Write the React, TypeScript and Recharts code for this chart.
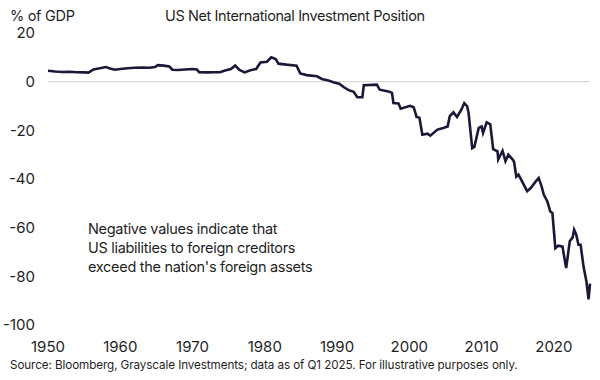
import React from "react";
import { LineChart, Line, XAxis, YAxis, ReferenceLine } from "recharts";

// Net international investment position, % of GDP
const years = [
  1950, 1951, 1952, 1953, 1954, 1955, 1955.6, 1956.3, 1957, 1958, 1958.7, 1959.3,
  1960, 1961, 1962, 1963, 1964, 1964.8, 1965.2, 1966, 1966.8, 1967.2, 1968, 1969,
  1970, 1970.6, 1970.9, 1972, 1973, 1973.8, 1974.5, 1975.3, 1975.9, 1976.5, 1977.2,
  1977.9, 1978.8, 1979.4, 1980.3, 1980.9, 1981.5, 1981.9, 1983, 1984.4, 1984.9,
  1985.8, 1987.2, 1987.9, 1988.8, 1989.6, 1990.3, 1990.9, 1991.6, 1992.3, 1992.8,
  1993.5, 1993.7, 1995.5, 1995.9, 1997.1, 1997.6, 1997.8, 1998.5, 1998.8, 2000.1,
  2000.6, 2001, 2001.4, 2001.8, 2002.5, 2002.9, 2003.9, 2004.7, 2005.3, 2005.6,
  2006.1, 2006.6, 2007.2, 2007.6, 2008, 2008.2, 2008.7, 2009, 2009.6, 2010, 2010.2,
  2010.7, 2011.2, 2011.6, 2012.2, 2012.3, 2012.9, 2013.3, 2013.7, 2014.3, 2014.5,
  2014.8, 2015.1, 2015.6, 2016.3, 2016.8, 2017.5, 2017.9, 2018.3, 2018.6, 2019.1,
  2019.5, 2019.8, 2020.2, 2020.6, 2021.2, 2021.3, 2021.7, 2022.2, 2022.6, 2022.8,
  2023.1, 2023.4, 2023.7, 2024.1, 2024.5, 2024.8, 2025,
];

const niip = [
  4.5, 4.2, 4.0, 4.1, 3.9, 3.8, 3.7, 5.0, 5.4, 6.0, 5.3, 4.9,
  5.2, 5.5, 5.7, 5.8, 5.7, 6.0, 6.8, 6.6, 6.2, 4.9, 4.8, 5.0,
  5.2, 5.0, 3.9, 3.8, 3.9, 3.9, 4.6, 5.2, 6.6, 4.8, 3.8,
  4.6, 5.2, 7.9, 8.2, 10.0, 9.3, 7.4, 7.0, 6.6, 3.4,
  2.7, 2.2, 1.1, 0.5, -0.3, -0.8, -2.2, -3.5, -4.2, -6.4,
  -6.4, -1.5, -1.2, -3.3, -4.0, -4.6, -8.8, -9.0, -11.1, -9.9,
  -10.5, -14.5, -14.8, -21.8, -21.4, -22.2, -19.7, -19.0, -18.4, -14.2,
  -12.6, -14.5, -11.5, -8.8, -10.1, -12.9, -27.3, -26.8, -19.0, -18.4, -21.1,
  -16.7, -17.5, -27.7, -28.6, -32.0, -28.4, -32.7, -30.0, -32.0, -33.0,
  -39.0, -38.2, -41.0, -45.0, -43.7, -41.0, -39.6, -43.0, -46.4, -49.2,
  -53.3, -54.0, -68.4, -67.4, -67.8, -69.7, -76.6, -65.6, -64.0, -60.8,
  -62.9, -67.0, -67.0, -75.9, -82.0, -89.5, -83.0,
];

const xTicks = [1950, 1960, 1970, 1980, 1990, 2000, 2010, 2020];
const yTicks = [20, 0, -20, -40, -60, -80, -100];

const data = years.map((year, i) => ({ year, niip: niip[i] }));

const FONT = "Inter, 'Noto Sans', sans-serif";
const INK = "#1f1f1f";

const App: React.FC = () => {
  return (
    <div
      style={{
        position: "absolute",
        left: 0,
        top: 0,
        width: 600,
        height: 380,
        background: "#fff",
        fontFamily: FONT,
        color: INK,
      }}
    >
      <LineChart
        width={600}
        height={380}
        data={data}
        margin={{ top: 33, right: 10, left: 0, bottom: 25 }}
      >
        <XAxis
          dataKey="year"
          type="number"
          domain={[1950, 2025]}
          ticks={xTicks}
          axisLine={false}
          tickLine={false}
          tickMargin={10}
          height={30}
          tick={{ fill: INK, fontSize: 15, fontFamily: FONT }}
        />
        <YAxis
          type="number"
          domain={[-100, 20]}
          ticks={yTicks}
          axisLine={false}
          tickLine={false}
          tickMargin={7}
          width={48}
          tick={{ fill: INK, fontSize: 15, fontFamily: FONT }}
        />
        <ReferenceLine y={0} stroke="#cfcfcf" strokeWidth={1} />
        <Line
          type="linear"
          dataKey="niip"
          stroke="#1b1838"
          strokeWidth={2.6}
          dot={false}
          isAnimationActive={false}
        />
      </LineChart>

      <div
        style={{
          position: "absolute",
          left: 10,
          top: 7,
          fontSize: 14.5,
          letterSpacing: -0.3,
        }}
      >
        % of GDP
      </div>
      <div
        style={{
          position: "absolute",
          left: 165,
          top: 7,
          fontSize: 14.5,
          letterSpacing: -0.4,
        }}
      >
        US Net International Investment Position
      </div>
      <div
        style={{
          position: "absolute",
          left: 88,
          top: 219,
          fontSize: 14.5,
          letterSpacing: -0.3,
          lineHeight: "19px",
        }}
      >
        Negative values indicate that
        <br />
        US liabilities to foreign creditors
        <br />
        exceed the nation's foreign assets
      </div>
      <div
        style={{
          position: "absolute",
          left: 10,
          top: 358,
          fontSize: 11.7,
          letterSpacing: -0.1,
        }}
      >
        Source: Bloomberg, Grayscale Investments; data as of Q1 2025. For
        illustrative purposes only.
      </div>
    </div>
  );
};

export default App;
